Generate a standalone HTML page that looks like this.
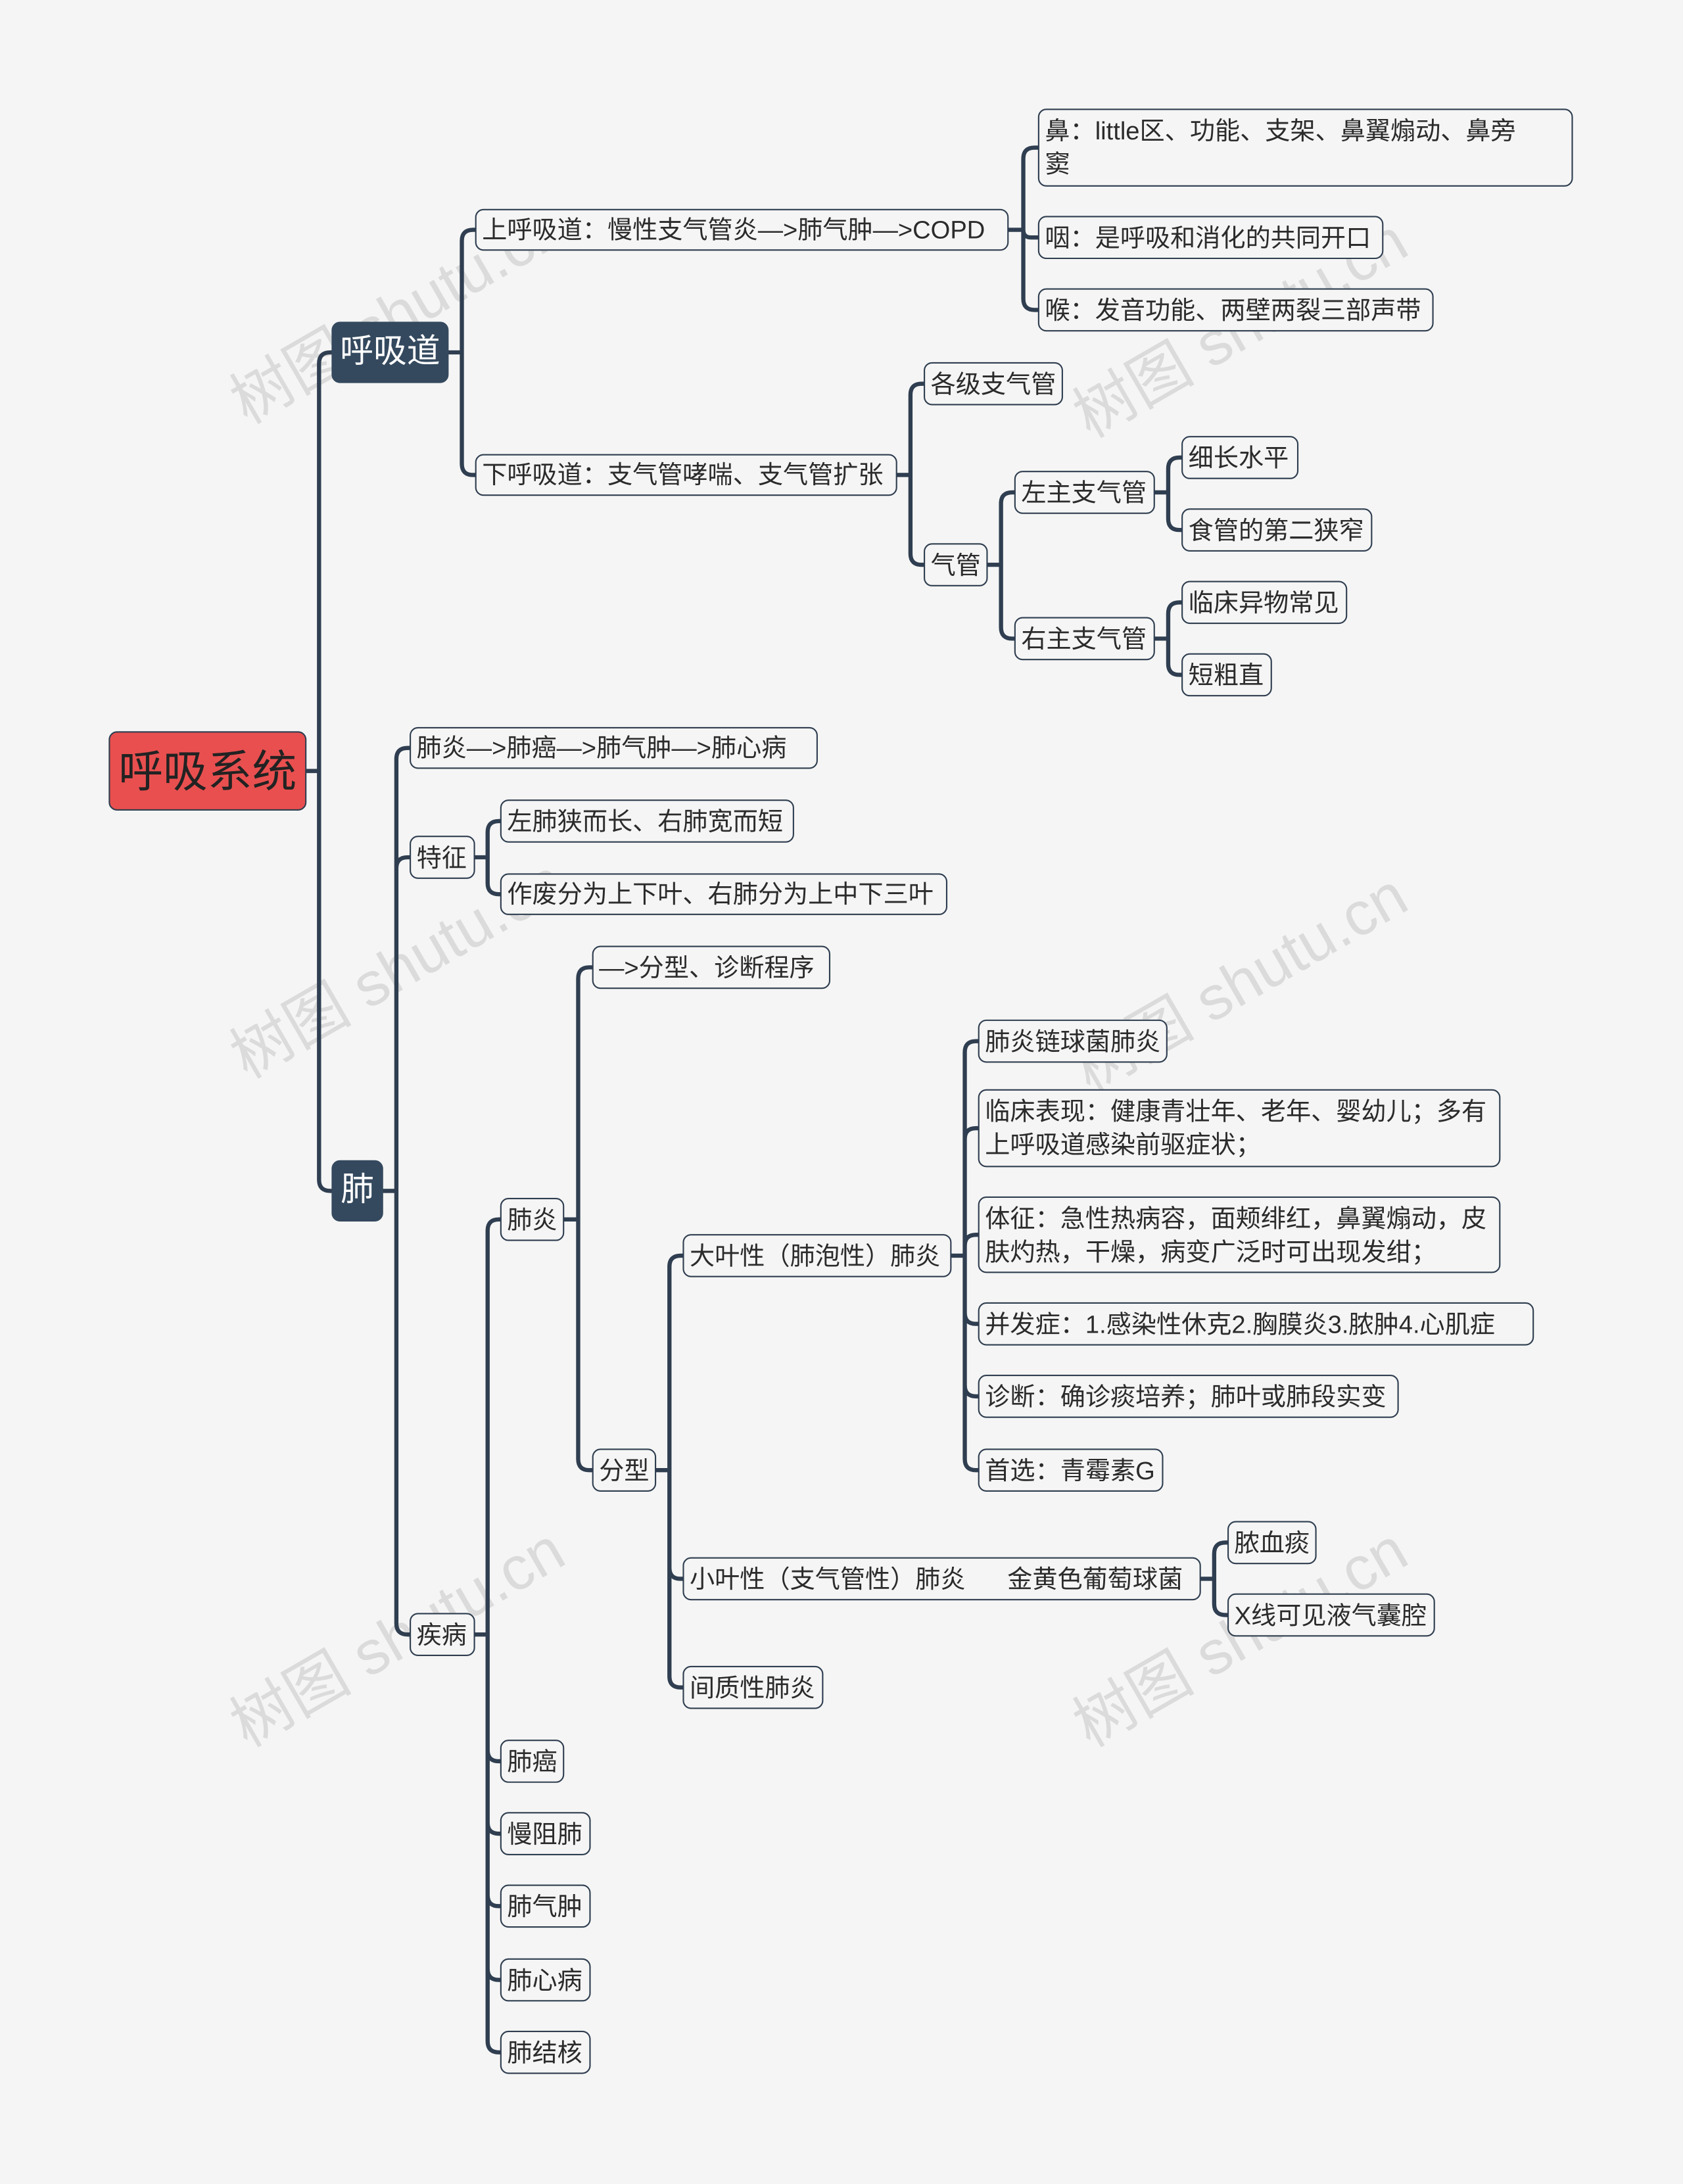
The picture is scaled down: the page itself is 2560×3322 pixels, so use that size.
<!DOCTYPE html>
<html><head><meta charset="utf-8">
<style>
html,body{margin:0;padding:0;background:#f5f5f5;}
#wrap{position:relative;width:2560px;height:3322px;overflow:hidden;background:#f5f5f5;}
#c{position:absolute;left:0;top:0;width:1208px;height:1568px;transform:scale(2.1192,2.1186);transform-origin:0 0;}
.n{position:absolute;box-sizing:border-box;border:1.5px solid #2f3e50;border-radius:6px;background:#f5f5f5;color:#2b2b2b;font-family:"Liberation Sans","Noto Sans CJK SC",sans-serif;font-size:18px;line-height:24px;padding:0 4px;display:flex;align-items:center;white-space:nowrap;}
.m{white-space:normal;align-items:flex-start;padding-top:3px;}
.d{background:#34495e;color:#fff;font-size:24px;border-color:#34495e;justify-content:center;}
.r{background:#e94f4f;color:#222;font-size:32px;border:1.5px solid #2f3e50;justify-content:center;}
.w{position:absolute;font-family:"Liberation Sans","Noto Sans CJK SC",sans-serif;font-size:44px;color:rgba(160,160,160,0.3);transform:rotate(-30deg);white-space:nowrap;}
svg{position:absolute;left:0;top:0;}
</style></head><body>
<div id="wrap"><div id="c">
<div class="w" style="left:150px;top:190px">树图 shutu.cn</div>
<div class="w" style="left:755px;top:200px">树图 shutu.cn</div>
<div class="w" style="left:150px;top:660px">树图 shutu.cn</div>
<div class="w" style="left:755px;top:670px">树图 shutu.cn</div>
<div class="w" style="left:150px;top:1140px">树图 shutu.cn</div>
<div class="w" style="left:755px;top:1140px">树图 shutu.cn</div>
<svg id="s" width="1208" height="1568"></svg>
</div></div>
<script>
var N=[
["root",null,78,525,220,582,"呼吸系统","r"],
["hxd","root",238,231,322,275,"呼吸道","d"],
["fei","root",238,833,275,877,"肺","d"],
["shxd","hxd",341,150,724,180,"上呼吸道：慢性支气管炎—>肺气肿—>COPD",""],
["bi","shxd",745,78,1129,134,"鼻：little区、功能、支架、鼻翼煽动、鼻旁<br>窦","m"],
["yan","shxd",745,155,993,186,"咽：是呼吸和消化的共同开口",""],
["hou","shxd",745,207,1029,238,"喉：发音功能、两壁两裂三部声带",""],
["xhxd","hxd",341,326,644,356,"下呼吸道：支气管哮喘、支气管扩张",""],
["gj","xhxd",663,260,763,291,"各级支气管",""],
["qg","xhxd",663,390,709,421,"气管",""],
["zz","qg",728,338,829,369,"左主支气管",""],
["xc","zz",848,313,932,344,"细长水平",""],
["sg","zz",848,365,985,396,"食管的第二狭窄",""],
["yz","qg",728,443,829,474,"右主支气管",""],
["lc","yz",848,417,967,448,"临床异物常见",""],
["dc","yz",848,469,913,500,"短粗直",""],
["f1","fei",294,522,587,552,"肺炎—>肺癌—>肺气肿—>肺心病",""],
["tz","fei",294,600,341,631,"特征",""],
["t1","tz",359,574,570,605,"左肺狭而长、右肺宽而短",""],
["t2","tz",359,627,680,657,"作废分为上下叶、右肺分为上中下三叶",""],
["jb","fei",294,1158,341,1189,"疾病",""],
["fy","jb",359,860,405,891,"肺炎",""],
["fx0","fy",425,679,596,710,"—>分型、诊断程序",""],
["fx","fy",425,1040,471,1071,"分型",""],
["dy","fx",490,886,683,917,"大叶性（肺泡性）肺炎",""],
["d1","dy",702,732,838,763,"肺炎链球菌肺炎",""],
["d2","dy",702,782,1077,838,"临床表现：健康青壮年、老年、婴幼儿；多有上呼吸道感染前驱症状；","m"],
["d3","dy",702,859,1077,914,"体征：急性热病容，面颊绯红，鼻翼煽动，皮肤灼热，干燥，病变广泛时可出现发绀；","m"],
["d4","dy",702,935,1101,966,"并发症：1.感染性休克2.胸膜炎3.脓肿4.心肌症",""],
["d5","dy",702,987,1004,1018,"诊断：确诊痰培养；肺叶或肺段实变",""],
["d6","dy",702,1040,835,1071,"首选：青霉素G",""],
["xy","fx",490,1118,862,1149,"小叶性（支气管性）肺炎&nbsp;&nbsp;&nbsp;&nbsp;&nbsp;&nbsp;金黄色葡萄球菌",""],
["x1","xy",881,1092,945,1123,"脓血痰",""],
["x2","xy",881,1144,1030,1175,"X线可见液气囊腔",""],
["jz","fx",490,1196,591,1227,"间质性肺炎",""],
["fa","jb",359,1249,405,1280,"肺癌",""],
["mz","jb",359,1301,424,1332,"慢阻肺",""],
["fq","jb",359,1353,424,1384,"肺气肿",""],
["fx2","jb",359,1406,424,1437,"肺心病",""],
["jh","jb",359,1458,424,1489,"肺结核",""]
];
var M={},c=document.getElementById("c"),s=document.getElementById("s"),p="";
N.forEach(function(a){M[a[0]]=a;var d=document.createElement("div");d.className="n "+a[7];
d.style.left=a[2]+"px";d.style.top=a[3]+"px";d.style.width=(a[4]-a[2])+"px";d.style.height=(a[5]-a[3])+"px";d.innerHTML=a[6];c.appendChild(d);});
N.forEach(function(a){if(!a[1])return;var q=M[a[1]];var py=(q[3]+q[5])/2,cy=(a[3]+a[5])/2,px=q[4],cx=a[2],bx=(px+cx)/2,r=8;
if(Math.abs(cy-py)<1){p+="M"+px+" "+py+"H"+cx;}else{var sg=cy>py?1:-1;var rr=Math.min(r,Math.abs(cy-py));
p+="M"+px+" "+py+"H"+bx+"V"+(cy-sg*rr)+"Q"+bx+" "+cy+" "+(bx+rr)+" "+cy+"H"+cx;}});
s.innerHTML='<path d="'+p+'" fill="none" stroke="#2f3e50" stroke-width="3" stroke-linecap="round" stroke-linejoin="round"/>';
</script>
</body></html>
